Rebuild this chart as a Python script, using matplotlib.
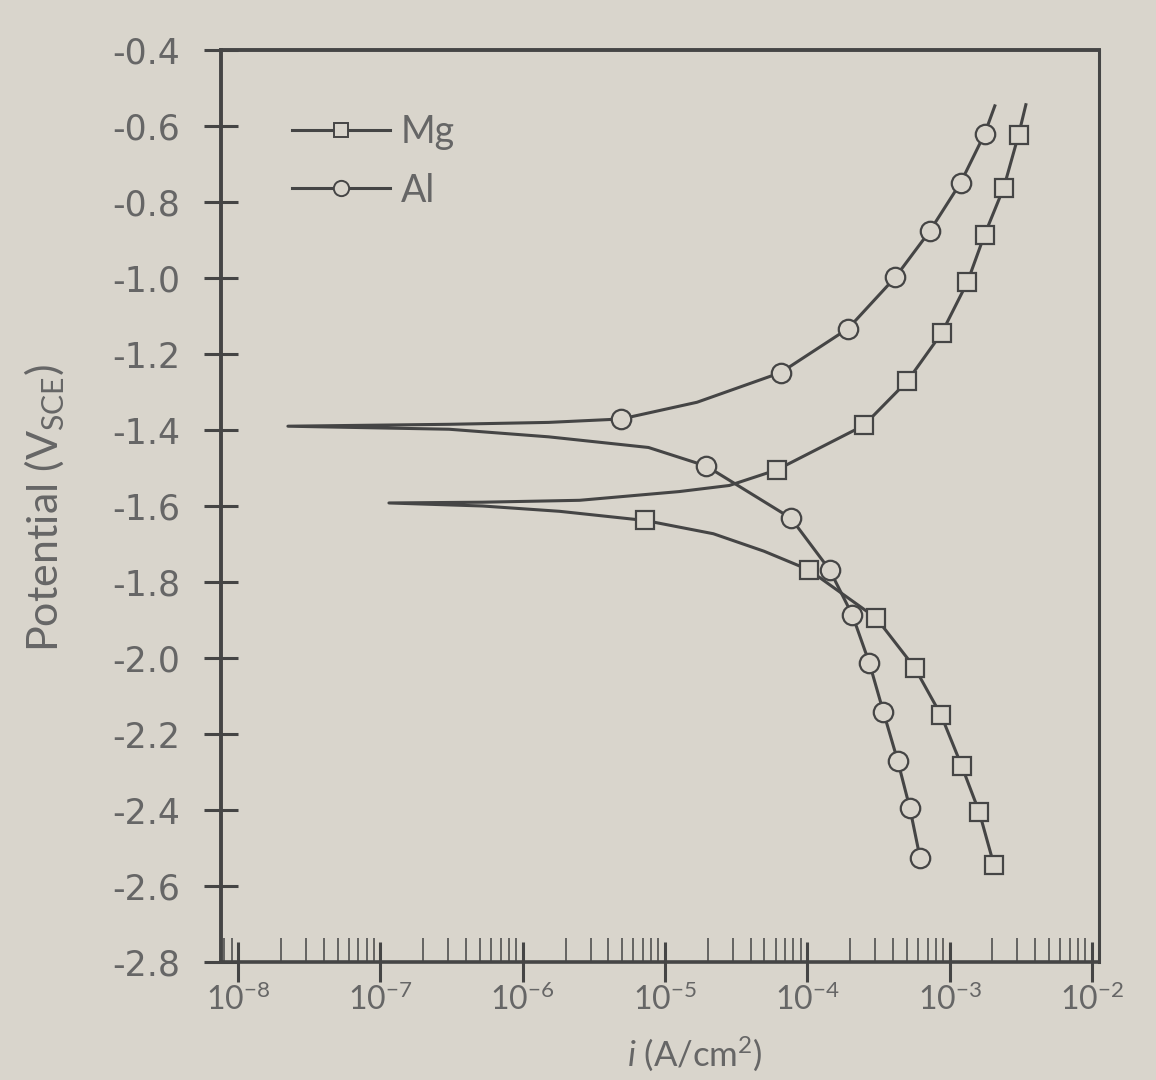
import matplotlib
matplotlib.use("Agg")
import matplotlib.pyplot as plt
import numpy as np
from matplotlib.lines import Line2D
from matplotlib.ticker import FixedLocator, LogLocator, NullFormatter

# ---------------- data ----------------
# Al polarization curve, from bottom of cathodic branch to top of anodic branch
al_E = [-2.525, -2.395, -2.270, -2.142, -2.014, -1.887, -1.768, -1.632, -1.495,
        -1.446, -1.418, -1.398, -1.390, -1.385, -1.380, -1.371, -1.327,
        -1.249, -1.133, -0.998, -0.877, -0.749, -0.621, -0.547]
al_log_i = [-3.208, -3.279, -3.365, -3.465, -3.563, -3.683, -3.843, -4.115, -4.709,
            -5.116, -5.817, -6.517, -7.650, -6.517, -5.818, -5.308, -4.775,
            -4.187, -3.713, -3.381, -3.140, -2.922, -2.754, -2.682]
al_marks = [0, 1, 2, 3, 4, 5, 6, 7, 8, 15, 17, 18, 19, 20, 21, 22]

# Mg polarization curve
mg_E = [-2.545, -2.406, -2.284, -2.151, -2.025, -1.895, -1.768, -1.719, -1.673,
        -1.638, -1.614, -1.600, -1.592, -1.590, -1.585, -1.562, -1.546,
        -1.505, -1.388, -1.271, -1.144, -1.011, -0.886, -0.762, -0.623, -0.544]
mg_log_i = [-2.688, -2.791, -2.915, -3.059, -3.246, -3.515, -3.989, -4.304, -4.660,
            -5.141, -5.740, -6.282, -6.940, -6.282, -5.600, -4.899, -4.548,
            -4.215, -3.603, -3.296, -3.054, -2.875, -2.754, -2.619, -2.515, -2.464]
mg_marks = [0, 1, 2, 3, 4, 5, 6, 9, 17, 18, 19, 20, 21, 22, 23, 24]

y_ticks = [-0.4, -0.6, -0.8, -1.0, -1.2, -1.4, -1.6, -1.8, -2.0, -2.2, -2.4, -2.6, -2.8]
y_tick_labels = ["-0.4", "-0.6", "-0.8", "-1.0", "-1.2", "-1.4", "-1.6", "-1.8",
                 "-2.0", "-2.2", "-2.4", "-2.6", "-2.8"]
x_decades = [-8, -7, -6, -5, -4, -3, -2]
x_tick_labels = [r"$10^{-8}$", r"$10^{-7}$", r"$10^{-6}$", r"$10^{-5}$",
                 r"$10^{-4}$", r"$10^{-3}$", r"$10^{-2}$"]
series_names = ["Mg", "Al"]

# ---------------- style ----------------
bg = "#d9d5cc"
ink = "#454545"
txt = "#666666"
plt.rcParams["font.family"] = ["Lato", "DejaVu Sans"]
plt.rcParams["mathtext.fontset"] = "custom"
plt.rcParams["mathtext.rm"] = "Lato"
plt.rcParams["mathtext.it"] = "Lato:italic"
plt.rcParams["axes.unicode_minus"] = False

W, H = 1156, 1080
fig = plt.figure(figsize=(W / 100, H / 100), dpi=100, facecolor=bg)
ax = fig.add_axes([221 / W, 1 - 962 / H, 878 / W, 912 / H])
ax.set_facecolor(bg)

ax.plot(10.0 ** np.array(al_log_i), al_E, color=ink, lw=2.2,
        marker="o", ms=14, mfc=bg, mec=ink, mew=1.6, markevery=al_marks, zorder=3)
ax.plot(10.0 ** np.array(mg_log_i), mg_E, color=ink, lw=2.2,
        marker="s", ms=13, mfc=bg, mec=ink, mew=1.6, markevery=mg_marks, zorder=3)

ax.set_xscale("log")
ax.set_xlim(10 ** -8.12, 10 ** -1.95)
ax.set_ylim(-2.8, -0.4)

ax.yaxis.set_major_locator(FixedLocator(y_ticks))
ax.set_yticklabels(y_tick_labels, family=["DejaVu Sans"])
ax.xaxis.set_major_locator(FixedLocator([10.0 ** d for d in x_decades]))
ax.set_xticklabels(x_tick_labels)
ax.xaxis.set_minor_locator(LogLocator(base=10, subs=np.arange(2, 10), numticks=20))
ax.xaxis.set_minor_formatter(NullFormatter())

ax.tick_params(axis="y", which="major", direction="inout", length=25, width=2.2,
               color=ink, labelsize=25, labelcolor=txt, pad=17)
ax.tick_params(axis="x", which="major", direction="inout", length=29, width=2.2,
               color=ink, labelsize=23, labelcolor=txt, pad=1)
ax.tick_params(axis="x", which="minor", direction="in", length=17, width=1.1,
               color=ink)

for side, lw in [("left", 2.8), ("bottom", 2.6), ("top", 2.8), ("right", 2.2)]:
    ax.spines[side].set_linewidth(lw)
    ax.spines[side].set_color(ink)

fig.text(45 / W, 1 - 508 / H, r"Potential (V$_{\mathrm{SCE}}$)", rotation=90,
         ha="center", va="center", fontsize=31, color=txt)
fig.text(695 / W, 1 - 1054 / H, r"$\mathit{i}$ (A/cm$^2$)", ha="center",
         va="center", fontsize=25, color=txt)

handles = [Line2D([], [], color=ink, lw=2.2, marker="s", ms=10, mfc=bg, mec=ink, mew=1.4),
           Line2D([], [], color=ink, lw=2.2, marker="o", ms=11, mfc=bg, mec=ink, mew=1.4)]
leg = fig.legend(handles, series_names, loc="upper left",
                 bbox_to_anchor=(292 / W, 1 - 114 / H), frameon=False,
                 fontsize=27, handlelength=2.6, handletextpad=0.3,
                 labelspacing=0.6, borderpad=0, borderaxespad=0)
for t in leg.get_texts():
    t.set_color(txt)

fig.savefig("out.png", dpi=100, facecolor=bg)
